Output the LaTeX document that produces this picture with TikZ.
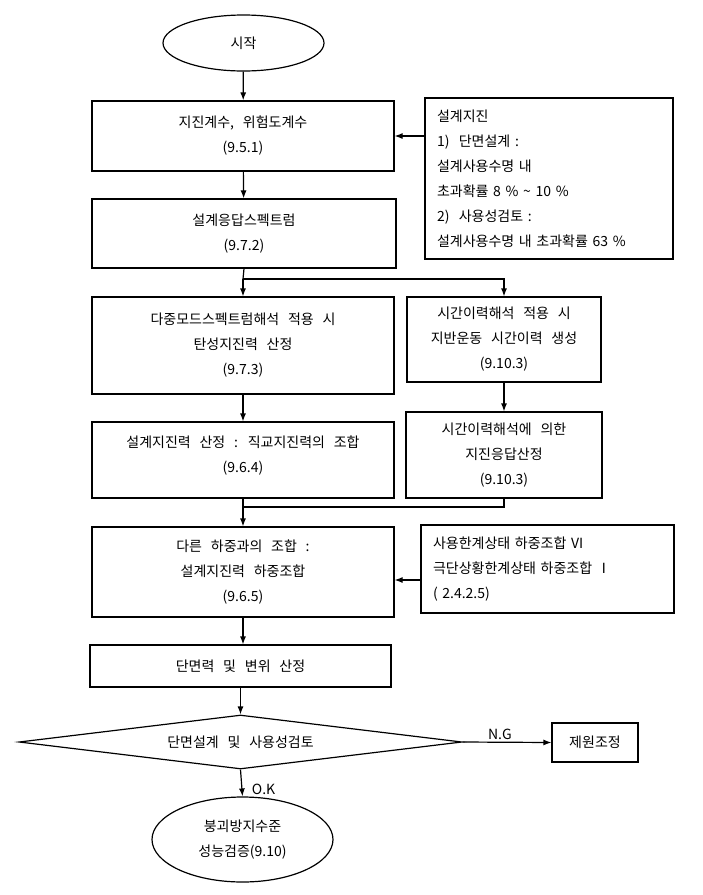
\documentclass[tikz,border=0pt]{standalone}
\usepackage{fontspec}
\setmainfont[WordSpace=2.8]{Noto Sans CJK KR}
\usetikzlibrary{shapes.geometric,arrows.meta}

\begin{document}
\begin{tikzpicture}[x=1pt,y=-1pt,
    every node/.style={font=\fontsize{14}{25}\selectfont},
    box/.style={draw,rectangle,align=center,inner sep=0pt,line width=1.2pt},
    notebox/.style={draw,rectangle,align=left,inner xsep=12pt,inner ysep=0pt,line width=1.2pt},
    link/.style={line width=1.2pt},
    >={Latex[length=8pt,width=6pt]}]

      \useasboundingbox (0,0) rectangle (703,895);

      % main column
      \node[draw,ellipse,line width=1.2pt,minimum width=161pt,minimum height=56pt] (start) at (243.5,43) {시작};
      \node[box,minimum width=302pt,minimum height=70pt] (seis) at (243,136) {지진계수, 위험도계수\\(9.5.1)};
      \node[box,minimum width=304pt,minimum height=69pt] (spec) at (244,233.5) {설계응답스펙트럼\\(9.7.2)};
      \node[box,minimum width=302pt,minimum height=97pt] (elastic) at (243,345.5) {다중모드스펙트럼해석 적용 시\\탄성지진력 산정\\(9.7.3)};
      \node[box,minimum width=302pt,minimum height=76pt] (ortho) at (243,460) {설계지진력 산정 : 직교지진력의 조합\\(9.6.4)\\[-14pt]};
      \node[box,minimum width=302pt,minimum height=90pt] (load) at (243,572) {다른 하중과의 조합 :\\설계지진력 하중조합\\(9.6.5)};
      \node[box,minimum width=301pt,minimum height=42pt] (force) at (240.5,666) {단면력 및 변위 산정};
      \node[draw,diamond,aspect=8.2,inner sep=0pt,line width=1.2pt,minimum width=443pt,minimum height=54pt] (check) at (240.5,742) {단면설계 및 사용성검토};
      \node[draw,ellipse,line width=1.2pt,minimum width=181pt,minimum height=85pt,align=center] (collapse) at (242.5,839.5) {붕괴방지수준\\성능검증(9.10)};

      % side column
      \node[notebox,text width=224pt,minimum height=161pt] (quake) at (549,178.5) {설계지진\\1)\ \ 단면설계 :\\설계사용수명 내\\초과확률 8 \% \textasciitilde{} 10 \%\\2)\ \ 사용성검토 :\\설계사용수명 내 초과확률 63 \%};
      \node[box,minimum width=194pt,minimum height=85pt] (hist) at (504,339.5) {시간이력해석 적용 시\\지반운동 시간이력 생성\\(9.10.3)};
      \node[box,minimum width=196pt,minimum height=86pt] (resp) at (504,455) {시간이력해석에 의한\\지진응답산정\\(9.10.3)};
      \node[notebox,text width=229pt,minimum height=88pt] (limit) at (547.5,569) {사용한계상태 하중조합 VI\\극단상황한계상태 하중조합 Ⅰ\\( 2.4.2.5)};
      \node[box,minimum width=86pt,minimum height=39pt] (resize) at (595,742.5) {제원조정};

      \coordinate (split) at (243,279);
      \coordinate (merge) at (243,507);

      \draw[link,->] (start) -- (seis);
      \draw[link,->] (seis.east -| quake.west) -- (seis.east);
      \draw[link,->] (seis) -- (spec);
      \draw[link] (spec.south) -- (split);
      \draw[link,->] (split) -- (elastic.north);
      \draw[link,->] (split) -| (hist.north);
      \draw[link,->] (elastic) -- (ortho);
      \draw[link,->] (hist) -- (resp);
      \draw[link] (resp.south) |- (merge);
      \draw[link,->] (ortho) -- (load);
      \draw[link,->] ([yshift=-11pt]limit.west) -- ([yshift=-11pt]limit.west -| load.east);
      \draw[link,->] (load.south) -- (load.south |- force.north);
      \draw[link,->] (force.south -| check.north) -- (check.north);
      \path (check.east) edge[link,->] node[above,pos=0.42,inner sep=2pt] {N.G} (resize.west);
      \path (check.south) edge[link,->] node[right,pos=0.72,xshift=6pt] {O.K} (collapse.north);

    \end{tikzpicture}
\end{document}
